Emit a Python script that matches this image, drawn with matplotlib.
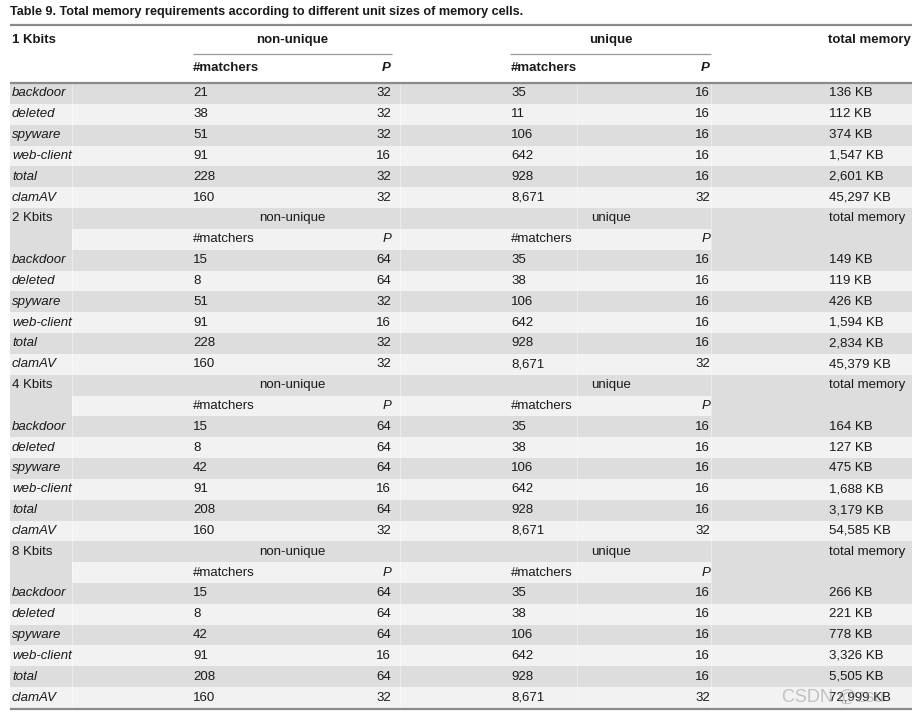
import matplotlib
matplotlib.use("Agg")
import matplotlib.pyplot as plt
from matplotlib.patches import Rectangle

plt.rcParams['font.family'] = ['Liberation Sans', 'DejaVu Sans']

title = "Table 9. Total memory requirements according to different unit sizes of memory cells."
sections = ["1 Kbits", "2 Kbits", "4 Kbits", "8 Kbits"]
row_labels = ["backdoor", "deleted", "spyware", "web-client", "total", "clamAV"]

nonunique_matchers = [
    [21, 38, 51, 91, 228, 160],
    [15, 8, 51, 91, 228, 160],
    [15, 8, 42, 91, 208, 160],
    [15, 8, 42, 91, 208, 160],
]
nonunique_P = [
    [32, 32, 32, 16, 32, 32],
    [64, 64, 32, 16, 32, 32],
    [64, 64, 64, 16, 64, 32],
    [64, 64, 64, 16, 64, 32],
]
unique_matchers = [
    [35, 11, 106, 642, 928, 8671],
    [35, 38, 106, 642, 928, 8671],
    [35, 38, 106, 642, 928, 8671],
    [35, 38, 106, 642, 928, 8671],
]
unique_P = [
    [16, 16, 16, 16, 16, 32],
    [16, 16, 16, 16, 16, 32],
    [16, 16, 16, 16, 16, 32],
    [16, 16, 16, 16, 16, 32],
]
total_memory_kb = [
    [136, 112, 374, 1547, 2601, 45297],
    [149, 119, 426, 1594, 2834, 45379],
    [164, 127, 475, 1688, 3179, 54585],
    [266, 221, 778, 3326, 5505, 72999],
]

W, H = 916, 713
fig = plt.figure(figsize=(W / 100, H / 100), dpi=100)
ax = fig.add_axes([0, 0, 1, 1])
ax.set_xlim(0, W)
ax.set_ylim(H, 0)
ax.axis('off')

FS = 9.5
DARK = '#dcdddc'
LIGHT = '#f2f2f2'
RULE = '#8a8a8a'
TXT = '#1a1a1a'

X0, X1 = 10, 912
xc0, xc1, xc2r, xc3, xc4r, xc5 = 12, 193, 391, 511, 710, 829
seps = [72, 400, 577, 711]

y_first = 93.5
pitch = 20.83
half = pitch / 2

def fmt(v):
    return f"{v:,}"

# title
ax.text(X0, 12, title, fontsize=9.1, fontweight='bold', color=TXT, va='center', ha='left')

# top header (section 1)
ax.plot([X0, X1], [25, 25], color=RULE, lw=1.6, solid_capstyle='butt')
ax.text(xc0, 40, sections[0], fontsize=FS, fontweight='bold', color=TXT, va='center')
ax.text((193 + 392) / 2, 40, "non-unique", fontsize=FS, fontweight='bold', color=TXT, va='center', ha='center')
ax.text((510 + 711) / 2, 40, "unique", fontsize=FS, fontweight='bold', color=TXT, va='center', ha='center')
ax.text(911, 40, "total memory", fontsize=FS, fontweight='bold', color=TXT, va='center', ha='right')
ax.plot([193, 392], [54, 54], color='#9a9a9a', lw=0.9, solid_capstyle='butt')
ax.plot([510, 711], [54, 54], color='#9a9a9a', lw=0.9, solid_capstyle='butt')
ax.text(xc1, 68, "#matchers", fontsize=FS, fontweight='bold', color=TXT, va='center')
ax.text(xc2r, 68, "P", fontsize=FS, fontweight='bold', style='italic', color=TXT, va='center', ha='right')
ax.text(xc3, 68, "#matchers", fontsize=FS, fontweight='bold', color=TXT, va='center')
ax.text(xc4r, 68, "P", fontsize=FS, fontweight='bold', style='italic', color=TXT, va='center', ha='right')

row = 0
for s, sec in enumerate(sections):
    if s > 0:
        yh = y_first + row * pitch
        ys = yh + pitch
        ax.add_patch(Rectangle((X0, yh - half), X1 - X0, pitch, color=DARK, lw=0))
        ax.add_patch(Rectangle((X0, ys - half), X1 - X0, pitch, color=LIGHT, lw=0))
        ax.add_patch(Rectangle((X0, ys - half), seps[0] - X0, pitch, color=DARK, lw=0))
        ax.add_patch(Rectangle((seps[3], ys - half), X1 - seps[3], pitch, color=DARK, lw=0))
        ax.text(xc0, yh, sec, fontsize=FS, color=TXT, va='center')
        ax.text(292, yh, "non-unique", fontsize=FS, color=TXT, va='center', ha='center')
        ax.text(611, yh, "unique", fontsize=FS, color=TXT, va='center', ha='center')
        ax.text(xc5, yh, "total memory", fontsize=FS, color=TXT, va='center')
        ax.text(xc1, ys, "#matchers", fontsize=FS, color=TXT, va='center')
        ax.text(xc2r, ys, "P", fontsize=FS, style='italic', color=TXT, va='center', ha='right')
        ax.text(xc3, ys, "#matchers", fontsize=FS, color=TXT, va='center')
        ax.text(xc4r, ys, "P", fontsize=FS, style='italic', color=TXT, va='center', ha='right')
        row += 2
    for i, lab in enumerate(row_labels):
        y = y_first + row * pitch
        ax.add_patch(Rectangle((X0, y - half), X1 - X0, pitch,
                               color=DARK if i % 2 == 0 else LIGHT, lw=0))
        ax.text(xc0, y, lab, fontsize=FS, style='italic', color=TXT, va='center')
        ax.text(xc1, y, fmt(nonunique_matchers[s][i]), fontsize=FS, color=TXT, va='center')
        ax.text(xc2r, y, fmt(nonunique_P[s][i]), fontsize=FS, color=TXT, va='center', ha='right')
        ax.text(xc3, y, fmt(unique_matchers[s][i]), fontsize=FS, color=TXT, va='center')
        ax.text(xc4r, y, fmt(unique_P[s][i]), fontsize=FS, color=TXT, va='center', ha='right')
        ax.text(xc5, y, fmt(total_memory_kb[s][i]) + " KB", fontsize=FS, color=TXT, va='center')
        row += 1

y_top = y_first - half
y_bot = y_first + (row - 1) * pitch + half
for sx in seps:
    ax.plot([sx, sx], [y_top, y_bot], color='white', lw=0.5, alpha=0.6)

ax.plot([X0, X1], [y_top - 0.5, y_top - 0.5], color=RULE, lw=1.6, solid_capstyle='butt')
ax.plot([X0, X1], [y_bot + 1, y_bot + 1], color=RULE, lw=1.6, solid_capstyle='butt')

# watermark
ax.text(782, 697, "CSDN @zsu", fontsize=13, color='#9a9a9a', alpha=0.55, va='center')

fig.savefig("out.png", dpi=100)
